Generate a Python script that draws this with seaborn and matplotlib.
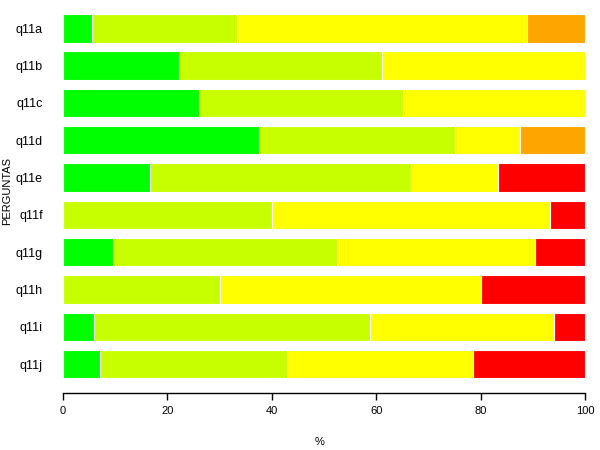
import matplotlib
matplotlib.use("Agg")
import matplotlib.pyplot as plt
import seaborn as sns
import pandas as pd
import numpy as np

perguntas = ["q11a", "q11b", "q11c", "q11d", "q11e", "q11f", "q11g", "q11h", "q11i", "q11j"]
muito_bom = [5.6, 22.2, 26.1, 37.5, 16.7, 0.0, 9.5, 0.0, 5.9, 7.1]
bom       = [27.8, 38.9, 39.1, 37.5, 50.0, 40.0, 42.9, 30.0, 52.9, 35.8]
regular   = [55.5, 38.9, 34.8, 12.5, 16.6, 53.3, 38.1, 50.0, 35.3, 35.7]
mau       = [11.1, 0.0, 0.0, 12.5, 0.0, 0.0, 0.0, 0.0, 0.0, 0.0]
muito_mau = [0.0, 0.0, 0.0, 0.0, 16.7, 6.7, 9.5, 20.0, 5.9, 21.4]

series = [muito_bom, bom, regular, mau, muito_mau]
cores = ["#00FF00", "#C8FF00", "#FFFF00", "#FFA500", "#FF0000"]

sns.set_theme(style="white")
plt.rcParams["font.family"] = ["Liberation Sans", "DejaVu Sans"]

fig = plt.figure(figsize=(6, 4.5), dpi=100)
ax = fig.add_axes([63/600, 1 - 392.5/450, 522/600, 392.5/450])

cum = np.cumsum(np.array(series), axis=0)
for k in range(len(series) - 1, -1, -1):
    df = pd.DataFrame({"pergunta": perguntas, "valor": cum[k]})
    sns.barplot(data=df, x="valor", y="pergunta", order=perguntas, color=cores[k],
                saturation=1, width=0.76, edgecolor="white", linewidth=0.8, ax=ax)

ax.set_xlim(0, 100)
ax.set_ylim(9.76, -0.76)
ax.set_xticks([0, 20, 40, 60, 80, 100])
ax.set_xlabel("")
ax.set_ylabel("")
for s in ["left", "top", "right"]:
    ax.spines[s].set_visible(False)
ax.spines["bottom"].set_bounds(0, 100)
ax.spines["bottom"].set_color("black")
ax.spines["bottom"].set_linewidth(1.0)
ax.tick_params(axis="x", bottom=True, length=5, width=1.0, color="black", pad=5, labelsize=8, labelcolor="black")
ax.tick_params(axis="y", left=False, length=0, pad=14.6, labelsize=9, labelcolor="black")

fig.text(320/600, 1 - 442/450, "%", ha="center", va="center", fontsize=8, color="black")
fig.text(7.5/600, 1 - 191/450, "PERGUNTAS", ha="center", va="center", rotation=90, fontsize=8, color="black")

fig.savefig("out.png", dpi=100)
